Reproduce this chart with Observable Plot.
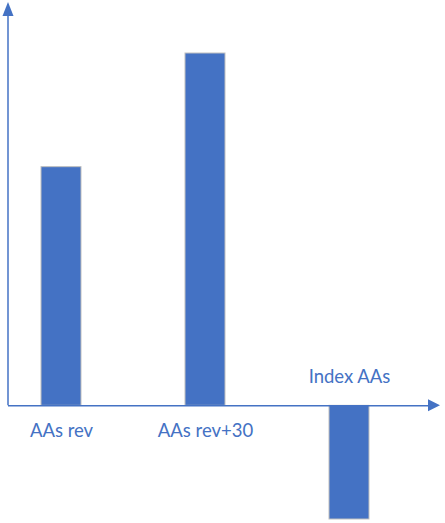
<!DOCTYPE html>
<html>
<head>
<meta charset="utf-8">
<script src="https://cdn.jsdelivr.net/npm/d3@7"></script>
<script src="https://cdn.jsdelivr.net/npm/@observablehq/plot@0.6"></script>
<style>
  html, body { margin: 0; padding: 0; background: #ffffff; }
  #chart svg { display: block; }
</style>
</head>
<body>
<div id="chart"></div>
<script>
const categories = ["AAs rev", "AAs rev+30", "Index AAs"];
const values = [21, 31, -10];

const data = categories.map((c, i) => ({cat: c, value: values[i]}));
const blue = "#4472C4";
const W = 445, H = 523;

const chart = Plot.plot({
  width: W,
  height: H,
  marginLeft: 8,
  marginRight: 15,
  marginTop: 0,
  marginBottom: 0,
  style: {background: "#ffffff", fontFamily: "Lato, 'Open Sans', sans-serif"},
  x: {type: "band", domain: categories, range: [40, 369], paddingInner: 0.723, paddingOuter: 0, axis: null},
  y: {domain: [-10, 31], range: [519, 53], axis: null},
  marks: [
    Plot.barY(data, {x: "cat", y: "value", fill: blue, stroke: "#BFBFBF", strokeWidth: 1}),
    Plot.ruleY([0], {stroke: blue, strokeWidth: 1.5}),
    Plot.text(data.filter(d => d.value >= 0), {x: "cat", y: 0, text: "cat", fill: blue, fontSize: 18.5, lineAnchor: "bottom", dy: 31}),
    Plot.text(data.filter(d => d.value < 0), {x: "cat", y: 0, text: "cat", fill: blue, fontSize: 18.5, lineAnchor: "bottom", dy: -23})
  ]
});

document.getElementById("chart").appendChild(chart);

// axis lines with arrowheads
const svg = d3.select(chart);
const y0 = chart.scale("y").apply(0);
const xL = 8, xR = W - 15;
svg.append("line").attr("x1", xL).attr("x2", xL).attr("y1", y0).attr("y2", 14)
  .attr("stroke", blue).attr("stroke-width", 1.5);
svg.append("path").attr("d", `M${xL},2 L${xL - 5.5},16 L${xL + 5.5},16 Z`).attr("fill", blue);
svg.append("path").attr("d", `M${xR + 10},${y0} L${xR - 2},${y0 - 6} L${xR - 2},${y0 + 6} Z`).attr("fill", blue);
</script>
</body>
</html>
